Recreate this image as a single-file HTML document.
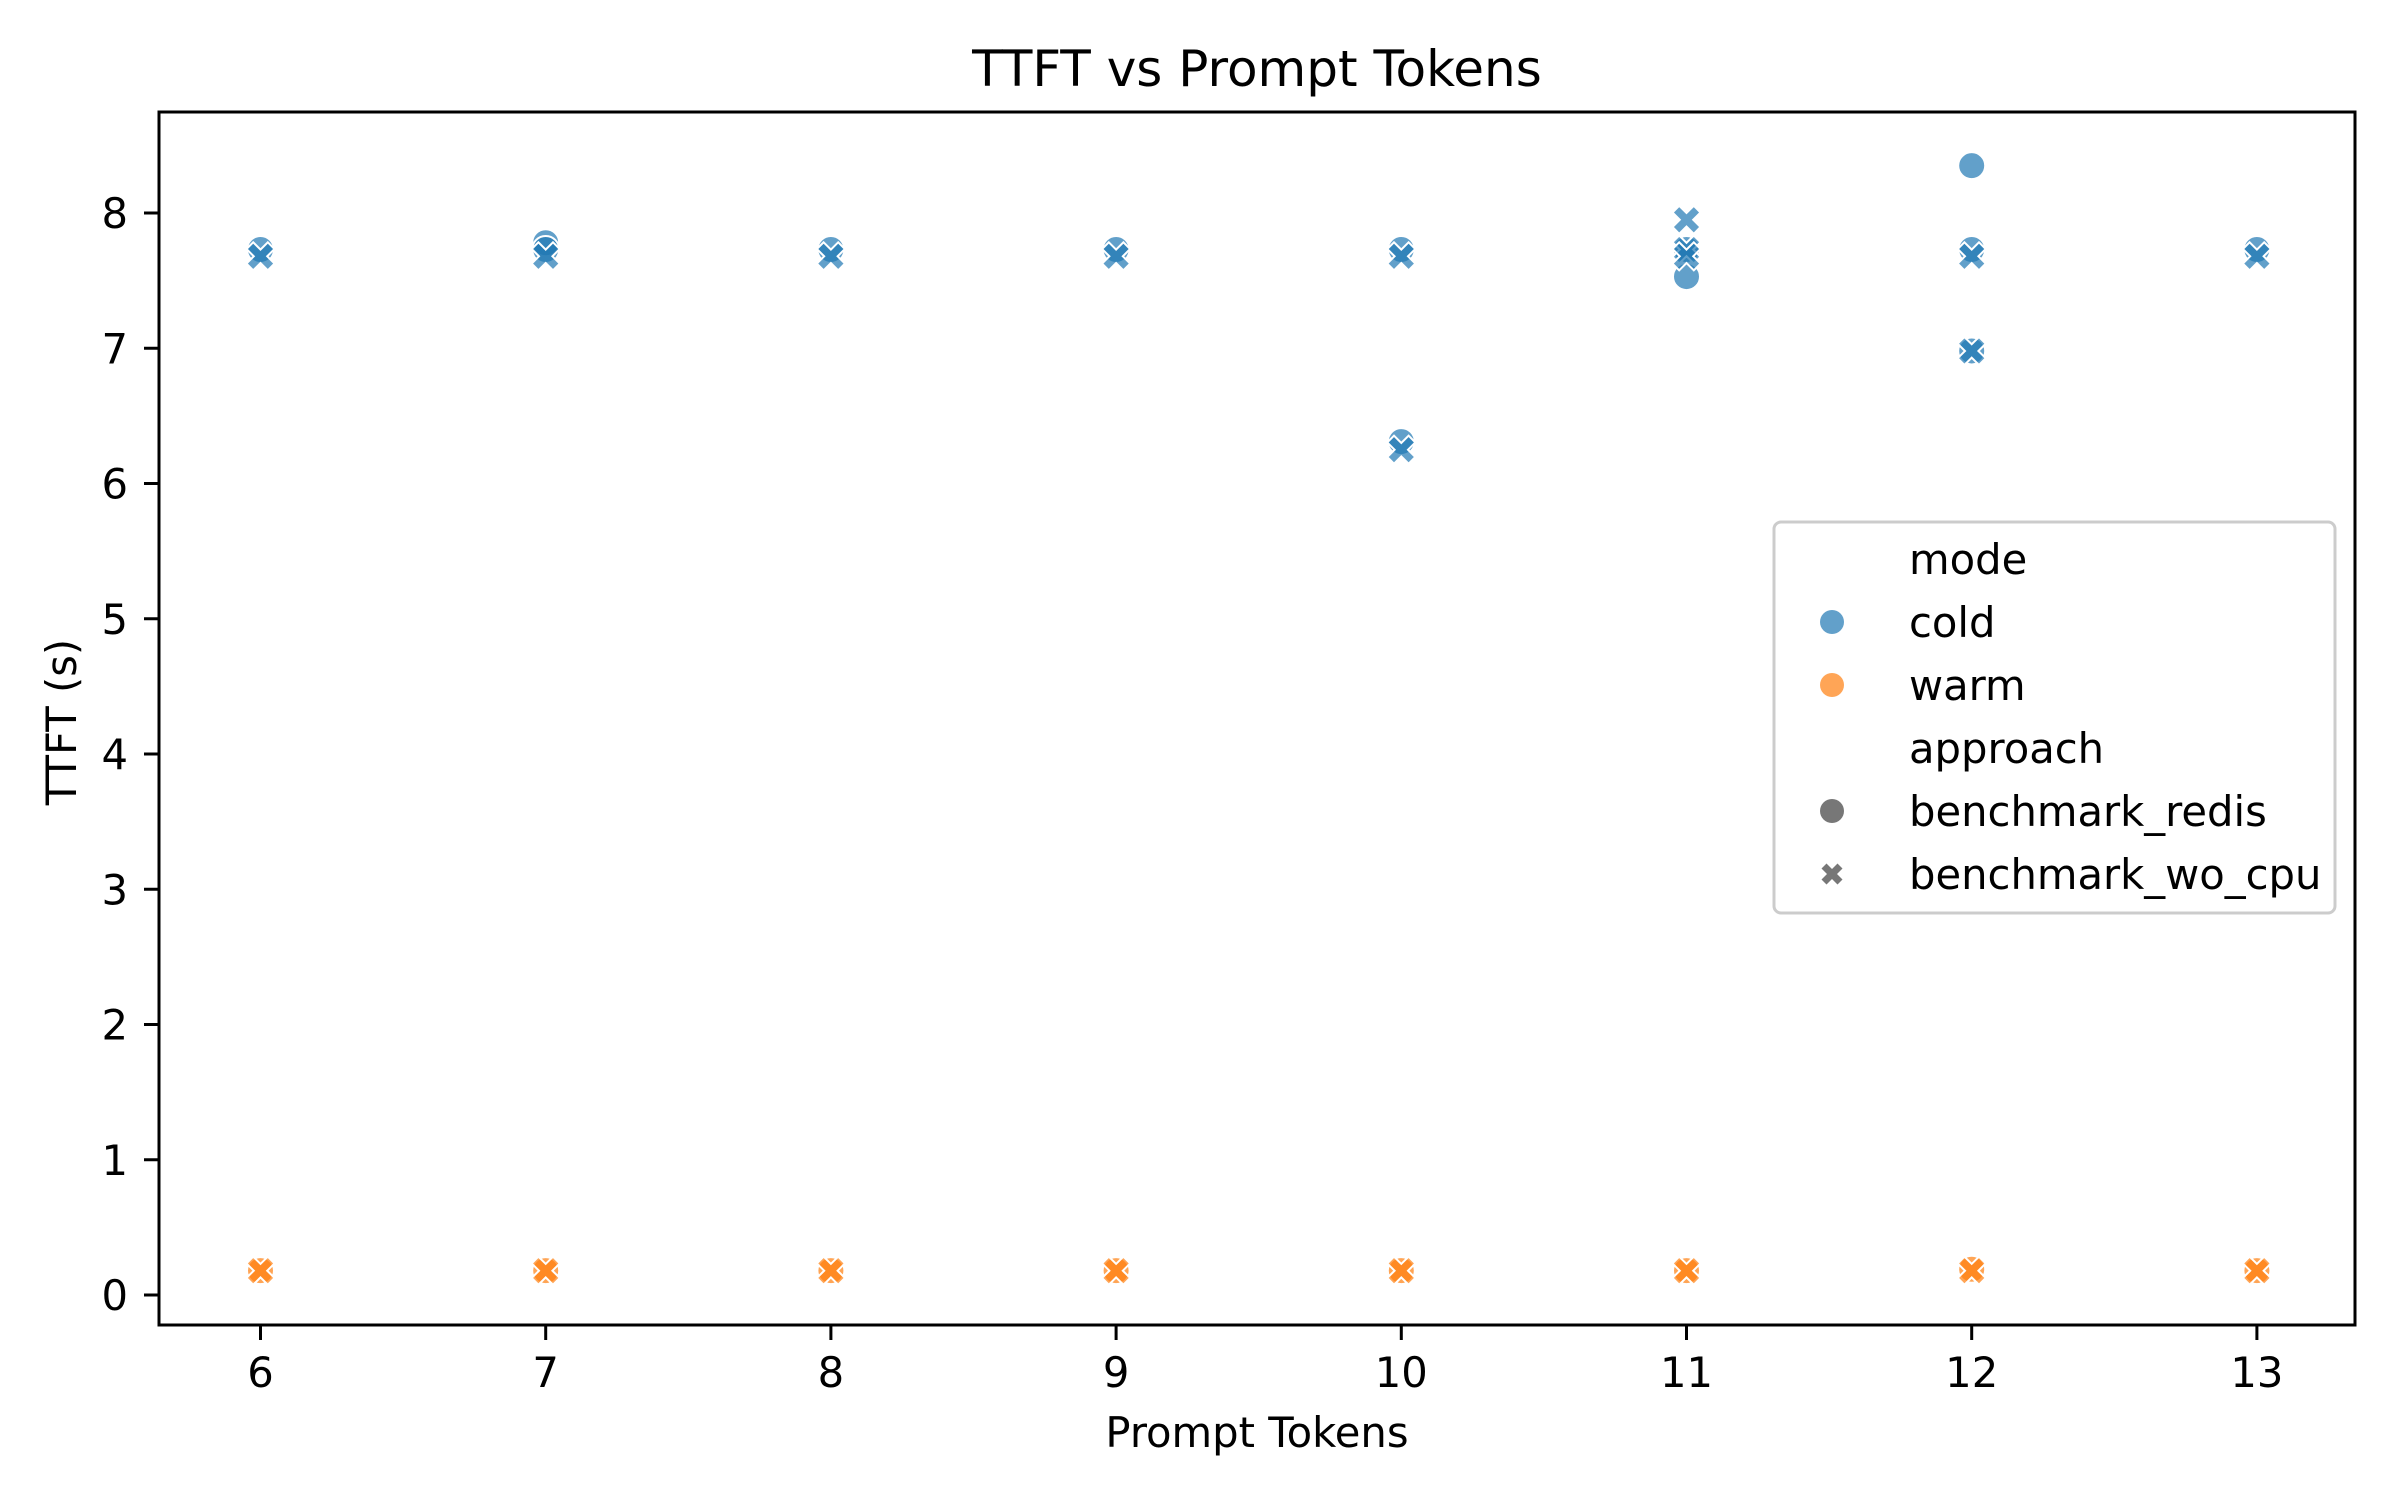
<!DOCTYPE html>
<html><head><meta charset="utf-8"><style>
html,body{margin:0;padding:0;background:#fff;}
svg{display:block;font-family:"DejaVu Sans","Liberation Sans",sans-serif;}
</style></head><body>
<svg id="chart" width="2400" height="1500" viewBox="0 0 2400 1500">
<rect x="0" y="0" width="2400" height="1500" fill="#fff"/>
<text x="1257" y="86" font-size="50" text-anchor="middle">TTFT vs Prompt Tokens</text>
<g id="marks"></g>
<g id="axes"></g>
<rect x="159" y="112" width="2196" height="1213" fill="none" stroke="#000" stroke-width="3"/>
<text x="1257" y="1447" font-size="41.7" text-anchor="middle">Prompt Tokens</text>
<text transform="translate(76,722) rotate(-90)" font-size="41.7" text-anchor="middle">TTFT (s)</text>
<g>
<rect x="1774" y="522" width="561" height="391" rx="7" fill="#fff" fill-opacity="0.8" stroke="#ccc" stroke-width="3"/>
<text x="1909" y="574" font-size="41.7">mode</text>
<circle cx="1832" cy="622" r="12" fill="#1f77b4" fill-opacity="0.7"/>
<text x="1909" y="637" font-size="41.7">cold</text>
<circle cx="1832" cy="685" r="12" fill="#ff7f0e" fill-opacity="0.7"/>
<text x="1909" y="700" font-size="41.7">warm</text>
<text x="1909" y="763" font-size="41.7">approach</text>
<circle cx="1832" cy="811" r="12" fill="#555" fill-opacity="0.8"/>
<text x="1909" y="826" font-size="41.7">benchmark_redis</text>
<path id="legX" fill="#555" fill-opacity="0.8"/>
<text x="1909" y="889" font-size="41.7">benchmark_wo_cpu</text>
</g>
</svg>
<script>
const xTicks = [6,7,8,9,10,11,12,13];
const yTicks = [0,1,2,3,4,5,6,7,8];
const coldRedisX = [6,7,7,8,9,10,10,11,11,12,12,12,13];
const coldRedisY = [7.73,7.78,7.73,7.73,7.73,7.73,6.31,7.73,7.53,8.35,7.73,6.98,7.73];
const coldWoX = [6,7,8,9,10,10,11,11,11,12,12,13];
const coldWoY = [7.68,7.68,7.68,7.68,7.68,6.25,7.95,7.73,7.68,7.68,6.98,7.68];
const warmRedisX = [6,7,8,9,10,11,12,13];
const warmRedisY = [0.18,0.18,0.18,0.18,0.18,0.18,0.19,0.18];
const warmWoX = [6,7,8,9,10,11,12,13];
const warmWoY = [0.18,0.18,0.18,0.18,0.18,0.18,0.18,0.18];

const NS="http://www.w3.org/2000/svg";
function xs(v){return 260.5+(v-6)*285.2;}
function ys(v){return 1295-v*135.25;}
function xPath(cx,cy,s){
  const a=s*0.5,b=s*0.24;
  const p=[[-a,-a+b],[-a+b,-a],[0,-b],[a-b,-a],[a,-a+b],[b,0],[a,a-b],[a-b,a],[0,b],[-a+b,a],[-a,a-b],[-b,0]];
  return 'M'+p.map(q=>(cx+q[0]).toFixed(1)+','+(cy+q[1]).toFixed(1)).join('L')+'Z';
}
document.getElementById('legX').setAttribute('d',xPath(1832,874,21));
const axes=document.getElementById('axes');
xTicks.forEach(t=>{
  const l=document.createElementNS(NS,'line');
  l.setAttribute('x1',xs(t));l.setAttribute('x2',xs(t));l.setAttribute('y1',1325);l.setAttribute('y2',1340);
  l.setAttribute('stroke','#000');l.setAttribute('stroke-width',3);
  
  
  axes.appendChild(l);
  const tx=document.createElementNS(NS,'text');
  tx.setAttribute('x',xs(t));tx.setAttribute('y',1387);tx.setAttribute('font-size','41.7');tx.setAttribute('text-anchor','middle');
  tx.textContent=t;
  
  
  axes.appendChild(tx);
});
yTicks.forEach(t=>{
  const l=document.createElementNS(NS,'line');
  l.setAttribute('x1',144);l.setAttribute('x2',159);l.setAttribute('y1',ys(t));l.setAttribute('y2',ys(t));
  l.setAttribute('stroke','#000');l.setAttribute('stroke-width',3);
  
  
  axes.appendChild(l);
  const tx=document.createElementNS(NS,'text');
  tx.setAttribute('x',128);tx.setAttribute('y',ys(t)+15);tx.setAttribute('font-size','41.7');tx.setAttribute('text-anchor','end');
  tx.textContent=t;
  
  
  axes.appendChild(tx);
});
const marks=document.getElementById('marks');
function circles(X,Y,color,name){
  X.forEach((x,i)=>{
    const c=document.createElementNS(NS,'circle');
    c.setAttribute('cx',xs(x));c.setAttribute('cy',ys(Y[i]));c.setAttribute('r',13.5);
    c.setAttribute('fill',color);c.setAttribute('fill-opacity',0.7);
    c.setAttribute('stroke','#fff');c.setAttribute('stroke-width',2);
    
    
    marks.appendChild(c);
  });
}
function crosses(X,Y,color,name){
  X.forEach((x,i)=>{
    const p=document.createElementNS(NS,'path');
    p.setAttribute('d',xPath(xs(x),ys(Y[i]),28));
    p.setAttribute('fill',color);p.setAttribute('fill-opacity',0.7);
    p.setAttribute('stroke','#fff');p.setAttribute('stroke-width',2);
    
    
    marks.appendChild(p);
  });
}
circles(coldRedisX,coldRedisY,'#1f77b4','point-cold-redis');
crosses(coldWoX,coldWoY,'#1f77b4','point-cold-wo-cpu');
circles(warmRedisX,warmRedisY,'#ff7f0e','point-warm-redis');
crosses(warmWoX,warmWoY,'#ff7f0e','point-warm-wo-cpu');
</script>
</body></html>
